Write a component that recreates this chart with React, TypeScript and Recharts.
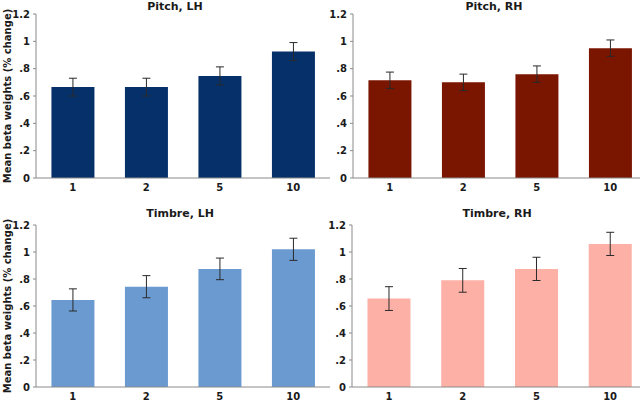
import React from 'react';
import { BarChart, Bar, XAxis, YAxis, ErrorBar } from 'recharts';

const categories = ['1', '2', '5', '10'];
const pitchLH = [0.665, 0.665, 0.747, 0.925];
const pitchLHErr = [0.065, 0.065, 0.066, 0.066];
const pitchRH = [0.715, 0.7, 0.76, 0.95];
const pitchRHErr = [0.06, 0.06, 0.06, 0.06];
const timbreLH = [0.645, 0.743, 0.875, 1.02];
const timbreLHErr = [0.082, 0.082, 0.08, 0.082];
const timbreRH = [0.655, 0.79, 0.875, 1.06];
const timbreRHErr = [0.088, 0.088, 0.086, 0.086];
const yTicks = [0, 0.2, 0.4, 0.6, 0.8, 1, 1.2];
const yTickLabels = ['0', '.2', '.4', '.6', '.8', '1', '1.2'];
const yLabel = 'Mean beta weights (% change)';

const build = (vals: number[], errs: number[]) =>
  categories.map((c, i) => ({ cat: c, v: vals[i], err: errs[i] }));

const FONT = '"DejaVu Sans", sans-serif';
const tickStyle = { fontSize: 10, fontWeight: 700, fill: '#1a1a1a', fontFamily: FONT };

type PanelProps = {
  left: number;
  top: number;
  width: number;
  height: number;
  marginTop: number;
  xHeight: number;
  yWidth: number;
  color: string;
  vals: number[];
  errs: number[];
  title: string;
  titleX: number;
  titleY: number;
  showLabel: boolean;
};

function Panel(p: PanelProps) {
  const data = build(p.vals, p.errs);
  return (
    <>
      <div
        style={{
          position: 'absolute',
          left: p.titleX - 100,
          top: p.titleY - 8,
          width: 200,
          textAlign: 'center',
          fontFamily: FONT,
          fontWeight: 700,
          fontSize: 11,
          lineHeight: '16px',
          color: '#1a1a1a',
        }}
      >
        {p.title}
      </div>
      <div style={{ position: 'absolute', left: p.left, top: p.top }}>
        <BarChart
          width={p.width}
          height={p.height}
          data={data}
          margin={{ top: p.marginTop, right: 0, bottom: 0, left: 0 }}
          barCategoryGap="21%"
        >
          <XAxis
            dataKey="cat"
            height={p.xHeight}
            tickLine={false}
            tickSize={4}
            tickMargin={2}
            axisLine={{ stroke: '#8a8a8a' }}
            tick={tickStyle}
            interval={0}
          />
          <YAxis
            width={p.yWidth}
            domain={[0, 1.2]}
            ticks={yTicks}
            tickFormatter={(v: number) => yTickLabels[yTicks.indexOf(v)] ?? String(v)}
            tickSize={3}
            tickMargin={3}
            tickLine={{ stroke: '#8a8a8a' }}
            axisLine={{ stroke: '#8a8a8a' }}
            tick={tickStyle}
            allowDataOverflow
            label={
              p.showLabel
                ? {
                    value: yLabel,
                    angle: -90,
                    position: 'insideLeft',
                    offset: 7,
                    style: {
                      textAnchor: 'middle',
                      fontSize: 10,
                      fontWeight: 700,
                      fill: '#1a1a1a',
                      fontFamily: FONT,
                    },
                  }
                : undefined
            }
          />
          <Bar dataKey="v" fill={p.color} isAnimationActive={false}>
            <ErrorBar dataKey="err" width={4} stroke="#2a2a2a" strokeWidth={1} isAnimationActive={false} />
          </Bar>
        </BarChart>
      </div>
    </>
  );
}

export default function App() {
  return (
    <div
      style={{
        position: 'absolute',
        left: 0,
        top: 0,
        width: 640,
        height: 404,
        overflow: 'hidden',
        background: '#ffffff',
      }}
    >
      <Panel left={0} top={0} width={330} height={202} marginTop={14} xHeight={24} yWidth={36}
        color="#05306a" vals={pitchLH} errs={pitchLHErr} title="Pitch, LH" titleX={175} titleY={7} showLabel />
      <Panel left={320} top={0} width={327} height={202} marginTop={14} xHeight={24} yWidth={33}
        color="#7a1500" vals={pitchRH} errs={pitchRHErr} title="Pitch, RH" titleX={494} titleY={7} showLabel={false} />
      <Panel left={0} top={200} width={330} height={204} marginTop={25} xHeight={17} yWidth={36}
        color="#6a9ad0" vals={timbreLH} errs={timbreLHErr} title="Timbre, LH" titleX={180} titleY={214} showLabel />
      <Panel left={320} top={200} width={327} height={204} marginTop={25} xHeight={17} yWidth={32}
        color="#fdb0a5" vals={timbreRH} errs={timbreRHErr} title="Timbre, RH" titleX={497} titleY={214} showLabel={false} />
    </div>
  );
}
